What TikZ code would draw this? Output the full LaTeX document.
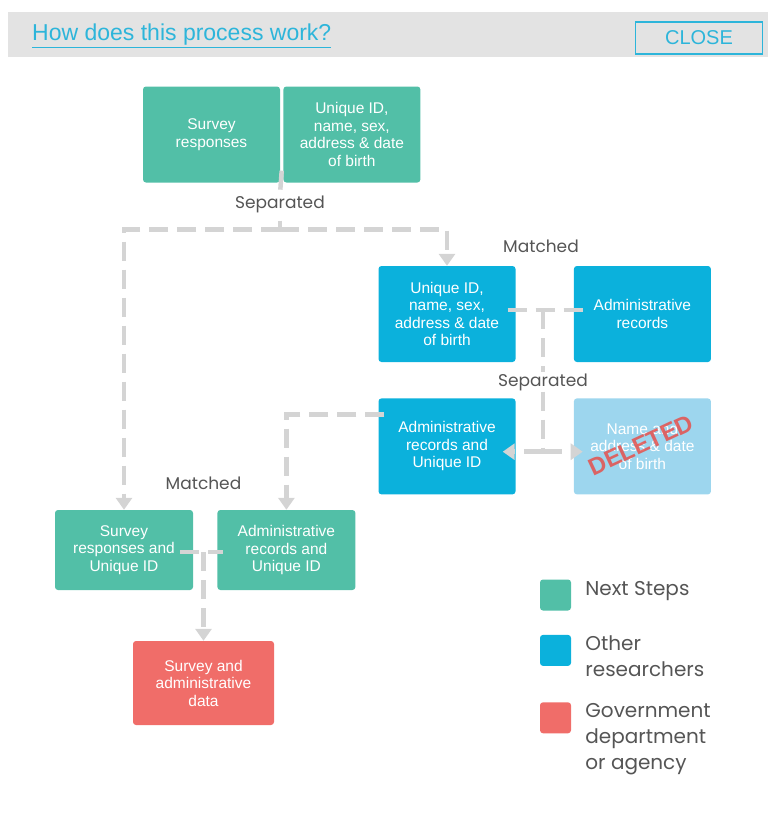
\documentclass[tikz,border=0pt]{standalone}
\usepackage{fontspec}
\setmainfont{Liberation Sans}
\newfontfamily\gothfont{Poppins}
\usetikzlibrary{positioning,calc,arrows.meta}
\definecolor{nsteal}{HTML}{52BFA7}
\definecolor{orblue}{HTML}{0BB1DC}
\definecolor{delblue}{HTML}{9DD6EE}
\definecolor{govred}{HTML}{F06D69}
\definecolor{flowgray}{HTML}{D4D4D4}
\definecolor{inkgray}{HTML}{555555}
\definecolor{linkblue}{HTML}{2DB5DA}
\definecolor{bargray}{HTML}{E3E3E3}
\definecolor{delred}{HTML}{E5514D}
\newcommand{\boxfont}{\fontsize{15.5}{17.5}\selectfont}
\newcommand{\lblfont}{\gothfont\fontsize{17}{20}\selectfont}
\newcommand{\keyfont}{\gothfont\fontsize{20}{26}\selectfont}

\begin{document}
\begin{tikzpicture}[
    x=1pt, y=-1pt,
    box/.style={rounded corners=3pt, minimum width=137pt, minimum height=96pt, align=center, text=white, font=\boxfont, inner sep=2pt},
    nsbox/.style={box, fill=nsteal},
    orbox/.style={box, fill=orblue},
    delbox/.style={box, fill=delblue},
    govbox/.style={box, fill=govred},
    lowbox/.style={minimum width=138pt, minimum height=80pt},
    lbl/.style={font=\lblfont, text=inkgray, inner sep=1pt},
    keysq/.style={rounded corners=3pt, minimum size=31pt, inner sep=0pt},
    keytxt/.style={font=\keyfont, text=inkgray, align=left, inner sep=0pt},
    flow/.style={draw=flowgray, line width=4.5pt, dash pattern=on 19pt off 9pt},
    arrow/.style={flow, -{Triangle[width=16pt,length=12pt]}},
]
\useasboundingbox (0,0) rectangle (768,819);

% header bar
\fill[bargray] (8,12) rectangle (768,57);
\node[font=\fontsize{23}{26}\selectfont, text=linkblue, anchor=west, inner sep=0pt] (howlink) at (32,36) {\underline{How does this process work?}};
\node[draw=linkblue, line width=1.5pt, minimum width=127pt, minimum height=32pt, text=linkblue, font=\fontsize{20}{22}\selectfont] (close) at (699,38) {CLOSE};

% boxes
\node[nsbox] (survey) at (211.5,134.5) {Survey\\responses};
\node[nsbox, right=3pt of survey] (ident) {Unique ID,\\name, sex,\\address \& date\\of birth};
\node[lbl] (sep1) at (280,204) {Separated};

\node[lbl] (match1) at (541,246) {Matched};
\node[orbox] (orident) at (447,314) {Unique ID,\\name, sex,\\address \& date\\of birth};
\node[orbox, right=58pt of orident] (oradmin) {Administrative\\records};
\node[lbl] (sep2) at (543,382) {Separated};
\node[orbox, below=36pt of orident] (oradminid) {Administrative\\records and\\Unique ID};
\node[delbox, right=58pt of oradminid] (ordelete) {Name and\\address \& date\\of birth};
\node[rotate=25, text=delred, opacity=.85, font=\fontsize{24}{24}\selectfont\bfseries, inner sep=0pt] (stamp) at (641,445) {DELETED};

\node[lbl] (match2) at (203.5,483) {Matched};
\node[nsbox, lowbox] (nssurveyid) at (124,550) {Survey\\responses and\\Unique ID};
\node[nsbox, lowbox, right=24pt of nssurveyid] (nsadminid) {Administrative\\records and\\Unique ID};
\node[govbox, minimum width=141pt, minimum height=84pt] (govdata) at (203.5,683) {Survey and\\administrative\\data};

% connectors
\coordinate (split) at ($(sep1.south)+(0,16)$);
\draw[flow] ($(survey.south east)+(1.5,-12)$) -- (sep1.north);
\draw[flow] ($(sep1.south)+(0,7)$) -- (split);
\draw[arrow] (split) -| (nssurveyid.north);
\draw[arrow] (split) -| (orident.north);

\draw[flow] ($(orident.east)+(-8,-4)$) -- ($(oradmin.west)+(11,-4)$);
\draw[flow] ($(sep2 |- orident)+(0,-4)$) -- (sep2.north);
\coordinate (fork) at ($(sep2.south)+(0,60)$);
\draw[flow] (sep2.south) -- (fork);
\draw[arrow] (fork) -- ($(fork -| oradminid.east)+(-13,0)$);
\draw[arrow] (fork) -- ($(fork -| ordelete.west)+(9,0)$);
\draw[arrow] ($(oradminid.west)+(6,-32)$) -| (nsadminid.north);

\draw[flow] ($(nssurveyid.east)+(-13,2)$) -- ($(nsadminid.west)+(6,2)$);
\draw[arrow] ($(match2 |- nssurveyid)+(0,2)$) -- (govdata.north);

% key
\node[keysq, fill=nsteal] (keyns) at (555.5,595) {};
\node[keysq, fill=orblue, below=24pt of keyns] (keyor) {};
\node[keysq, fill=govred, below=36pt of keyor] (keygov) {};
\node[keytxt, below right=2pt and 14pt of keyns.north east] (keynstxt) {Next Steps};
\node[keytxt, below right=1pt and 14pt of keyor.north east] (keyortxt) {Other\\researchers};
\node[keytxt, below right=1pt and 14pt of keygov.north east] (keygovtxt) {Government\\department\\or agency};
\end{tikzpicture}
\end{document}
